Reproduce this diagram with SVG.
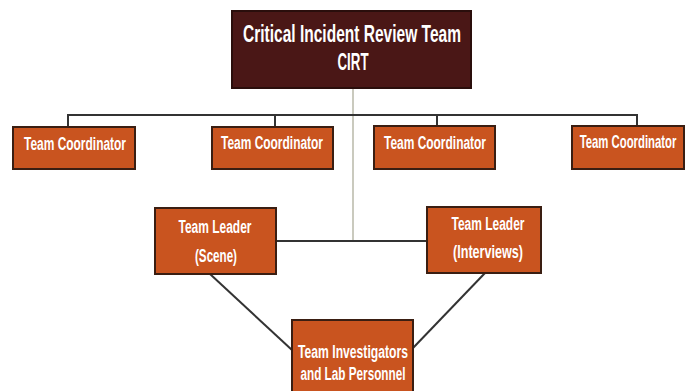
<svg xmlns="http://www.w3.org/2000/svg" width="685" height="391" viewBox="0 0 685 391">
<style>
.box{fill:#c9541f;stroke:#3a1e12;stroke-width:2}
.top{fill:#4a1716;stroke:#2a0e0c;stroke-width:2}
.t{font-family:"Liberation Sans",Arial,sans-serif;font-weight:bold;fill:#fff;text-anchor:middle}
.line{stroke:#333;stroke-width:2;fill:none}
.gline{stroke:#b8b8a8;stroke-width:1.5;fill:none}
</style>
<rect width="685" height="391" fill="#fff"/>
<g id="connectors">
<line class="gline" x1="353" y1="88" x2="353" y2="241"/>
<polyline class="line" points="68,127 68,115 637,115 637,126"/>
<line class="line" x1="275" y1="115" x2="275" y2="127"/>
<line class="line" x1="437" y1="115" x2="437" y2="126"/>
<line class="line" x1="276" y1="241" x2="427" y2="241"/>
<line class="line" x1="210" y1="274" x2="292" y2="350"/>
<line class="line" x1="485" y1="273" x2="413" y2="348"/>
</g>
<g id="cirt">
<rect class="top" x="232" y="11" width="239" height="77"/>
<text class="t" x="352" y="42" font-size="23" textLength="218" lengthAdjust="spacingAndGlyphs">Critical Incident Review Team</text>
<text class="t" x="353" y="70" font-size="23" textLength="31" lengthAdjust="spacingAndGlyphs">CIRT</text>
</g>
<g id="tc1">
<rect class="box" x="13" y="127" width="122" height="42"/>
<text class="t" x="75" y="150" font-size="18" textLength="102" lengthAdjust="spacingAndGlyphs">Team Coordinator</text>
</g>
<g id="tc2">
<rect class="box" x="212" y="127" width="121" height="42"/>
<text class="t" x="272" y="149" font-size="18" textLength="102" lengthAdjust="spacingAndGlyphs">Team Coordinator</text>
</g>
<g id="tc3">
<rect class="box" x="374" y="126" width="121" height="43"/>
<text class="t" x="435" y="149" font-size="18" textLength="102" lengthAdjust="spacingAndGlyphs">Team Coordinator</text>
</g>
<g id="tc4">
<rect class="box" x="572" y="126" width="112" height="43"/>
<text class="t" transform="translate(628,148) scale(0.63,1)" x="0" y="0" font-size="18">Team Coordinator</text>
</g>
<g id="leader-scene">
<rect class="box" x="155" y="208" width="121" height="66"/>
<text class="t" x="215" y="233" font-size="18" textLength="73" lengthAdjust="spacingAndGlyphs">Team Leader</text>
<text class="t" x="216" y="262" font-size="18" textLength="42" lengthAdjust="spacingAndGlyphs">(Scene)</text>
</g>
<g id="leader-interviews">
<rect class="box" x="427" y="207" width="114" height="66"/>
<text class="t" x="488" y="230" font-size="18" textLength="73" lengthAdjust="spacingAndGlyphs">Team Leader</text>
<text class="t" x="488" y="258" font-size="18" textLength="70" lengthAdjust="spacingAndGlyphs">(Interviews)</text>
</g>
<g id="investigators">
<rect class="box" x="292" y="320" width="121" height="75"/>
<text class="t" x="353" y="358" font-size="18" textLength="110" lengthAdjust="spacingAndGlyphs">Team Investigators</text>
<text class="t" x="353" y="380" font-size="18" textLength="105" lengthAdjust="spacingAndGlyphs">and Lab Personnel</text>
</g>
</svg>
